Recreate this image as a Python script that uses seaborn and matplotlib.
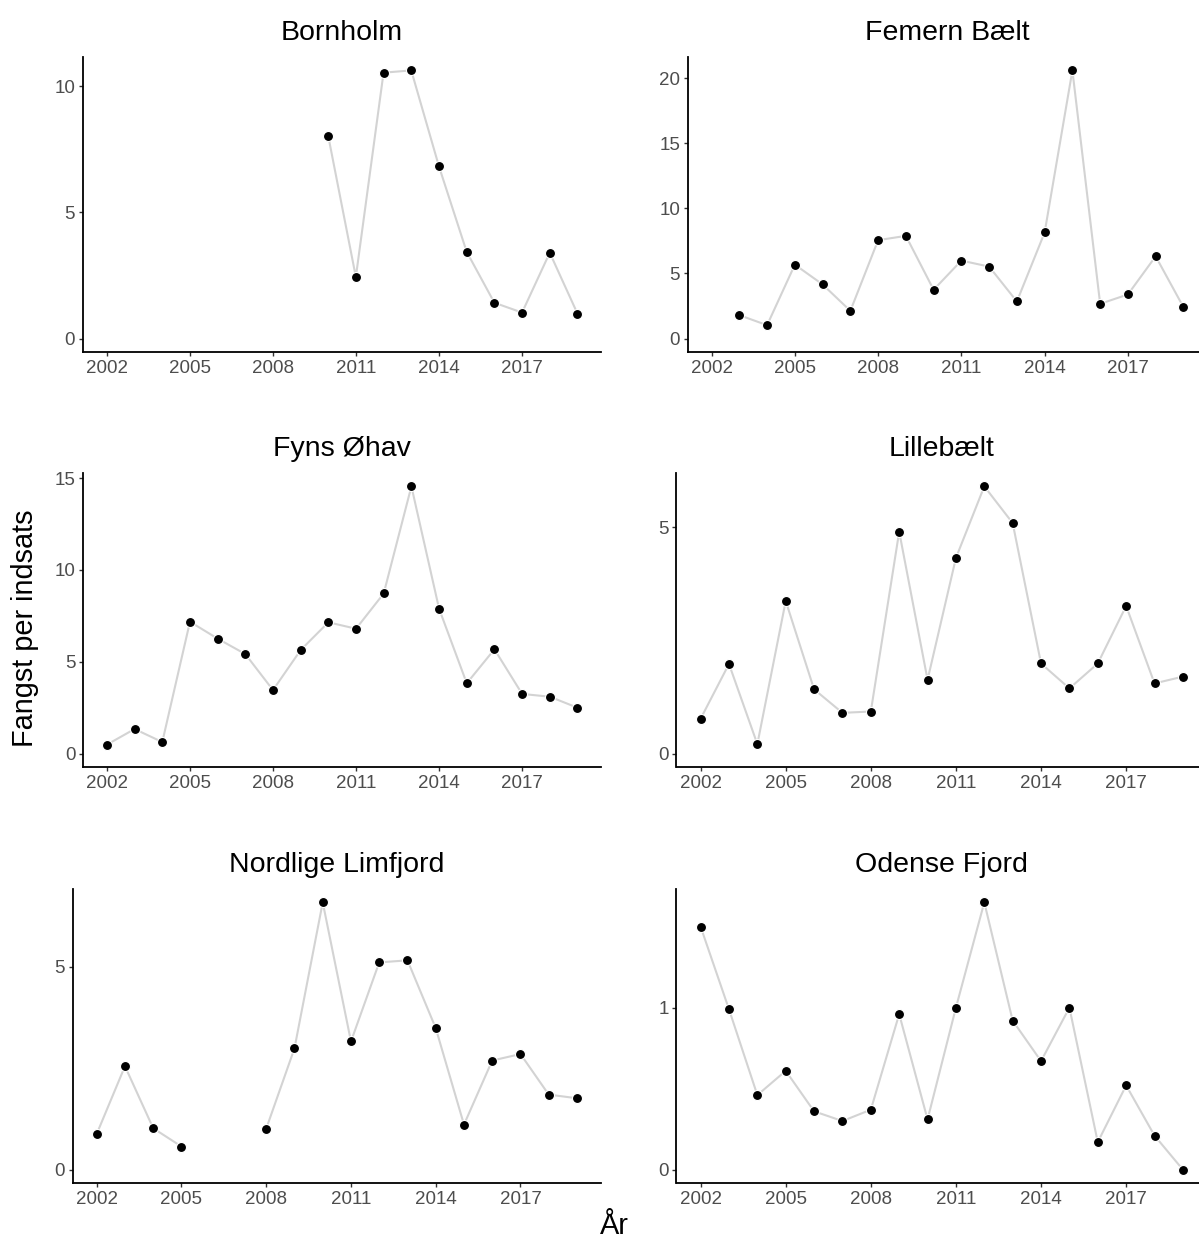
import numpy as np
import pandas as pd
import matplotlib
matplotlib.use("Agg")
import matplotlib.pyplot as plt
from matplotlib.ticker import MultipleLocator
import seaborn as sns

nan = np.nan

# data (catch per effort per area and year)
years = list(range(2002, 2020))
bornholm = [nan, nan, nan, nan, nan, nan, nan, nan,
            8.04, 2.44, 10.53, 10.62, 6.82, 3.44, 1.42, 1.03, 3.40, 0.99]
femern_baelt = [nan, 1.80, 1.03, 5.68, 4.16, 2.13, 7.56, 7.89, 3.75,
                5.99, 5.53, 2.85, 8.15, 20.6, 2.67, 3.39, 6.32, 2.42]
fyns_ohav = [0.49, 1.34, 0.63, 7.18, 6.26, 5.42, 3.46, 5.64, 7.15,
             6.80, 8.72, 14.55, 7.89, 3.83, 5.68, 3.25, 3.10, 2.50]
lillebaelt = [0.77, 1.98, 0.21, 3.37, 1.42, 0.90, 0.93, 4.90, 1.63,
              4.32, 5.90, 5.09, 1.99, 1.44, 1.99, 3.26, 1.55, 1.70]
nordlige_limfjord = [0.88, 2.55, 1.02, 0.57, nan, nan, 1.01, 2.99, 6.59,
                     3.16, 5.11, 5.16, 3.49, 1.11, 2.69, 2.85, 1.85, 1.76]
odense_fjord = [1.50, 0.99, 0.46, 0.61, 0.36, 0.30, 0.37, 0.96, 0.31,
                1.00, 1.65, 0.92, 0.67, 1.00, 0.17, 0.52, 0.21, 0.00]

omraader = ["Bornholm", "Femern Bælt", "Fyns Øhav",
            "Lillebælt", "Nordlige Limfjord", "Odense Fjord"]
serier = [bornholm, femern_baelt, fyns_ohav,
          lillebaelt, nordlige_limfjord, odense_fjord]
x_ticks = [2002, 2005, 2008, 2011, 2014, 2017]

rows = []
for navn, vals in zip(omraader, serier):
    for aar, v in zip(years, vals):
        rows.append({"omraade": navn, "aar": aar, "fangst": v})
df = pd.DataFrame(rows)
df = df.dropna().reset_index(drop=True)
# missing years break the line into segments
df["seg"] = df.groupby("omraade")["aar"].diff().fillna(1).gt(1).groupby(df["omraade"]).cumsum()

sns.set_theme(style="ticks")
plt.rcParams["font.family"] = ["Liberation Sans", "DejaVu Sans"]

W, H = 1199, 1241
fig = plt.figure(figsize=(W / 100, H / 100), dpi=100)

# panel boxes in pixels: left, top, right, bottom, y tick step
# (right column runs a little past the figure edge, as in the reference)
layout = [
    (83.0, 57, 601, 352, 5),
    (688.0, 57, 1207, 352, 5),
    (83.4, 473, 601, 767, 5),
    (676.5, 473, 1207, 767, 5),
    (72.7, 889, 601, 1183, 5),
    (676.5, 889, 1207, 1183, 1),
]

for i, navn in enumerate(omraader):
    l, t, r, b, step = layout[i]
    ax = fig.add_axes([l / W, 1 - b / H, (r - l) / W, (b - t) / H])
    d = df[df["omraade"] == navn]
    sns.lineplot(data=d, x="aar", y="fangst", units="seg", estimator=None,
                 color="#d3d3d3", linewidth=1.5, ax=ax, zorder=1)
    sns.scatterplot(data=d, x="aar", y="fangst", color="black", s=52,
                    edgecolor="white", linewidth=0.8, ax=ax, zorder=2)
    ymax = d["fangst"].max()
    ax.set_ylim(-0.05 * ymax, 1.05 * ymax)
    ax.set_xlim(2002 - 0.85, 2019 + 0.85)
    ax.set_xticks(x_ticks)
    ax.yaxis.set_major_locator(MultipleLocator(step))
    ax.set_xlabel("")
    ax.set_ylabel("")
    sns.despine(ax=ax)
    for s in ["left", "bottom"]:
        ax.spines[s].set_linewidth(1.3)
        ax.spines[s].set_color("black")
    ax.tick_params(axis="both", length=3.2, width=1.0, color="#333333",
                   labelcolor="#4d4d4d", labelsize=13.5, pad=2.5)
    ax.set_title(navn, fontsize=20.5, color="black", pad=12)

fig.text(25 / W, 1 - 628 / H, "Fangst per indsats", rotation=90,
         ha="center", va="center", fontsize=20.8, color="black")
fig.text(614 / W, 1 - 1226 / H, "År", ha="center", va="center",
         fontsize=20.8, color="black")

fig.savefig("out.png", dpi=100)
